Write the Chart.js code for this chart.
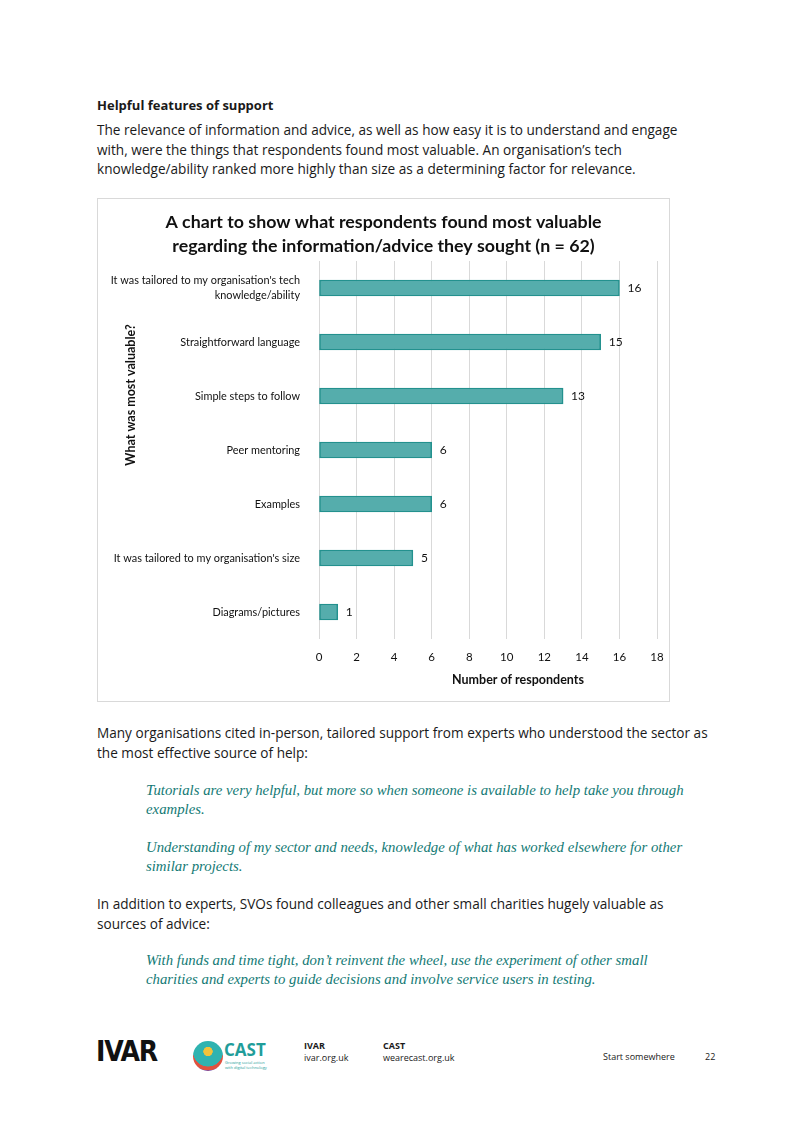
<!DOCTYPE html>
<html>
<head>
<meta charset="utf-8">
<script src="https://cdn.jsdelivr.net/npm/chart.js@4"></script>
<style>
  body { margin: 0; background: #fff; }
  .page { position: relative; width: 800px; height: 1132px; font-family: "Open Sans", sans-serif; color: #1a1a1a; }
  .t { position: absolute; left: 97px; white-space: nowrap; font-size: 13.6px; line-height: 19.5px; }
  .h { font-weight: bold; font-size: 13px; line-height: 20px; }
  .q { position: absolute; left: 146px; white-space: nowrap; font-family: "Liberation Serif", serif; font-style: italic; font-size: 14.8px; line-height: 19px; color: #137a75; }
  .box { position: absolute; left: 97px; top: 198px; width: 571px; height: 502px; border: 1px solid #d9d9d9; }
  .f { position: absolute; font-size: 9px; line-height: 12px; white-space: nowrap; }
</style>
</head>
<body>
<div class="page">
  <div class="t h" style="top:95px">Helpful features of support</div>
  <div class="t" style="top:120px">The relevance of information and advice, as well as how easy it is to understand and engage<br>with, were the things that respondents found most valuable. An organisation’s tech<br>knowledge/ability ranked more highly than size as a determining factor for relevance.</div>

  <div class="box"><canvas id="myChart" width="571" height="502"></canvas></div>

  <div class="t" style="top:723px">Many organisations cited in-person, tailored support from experts who understood the sector as<br>the most effective source of help:</div>
  <div class="q" style="top:781px">Tutorials are very helpful, but more so when someone is available to help take you through<br>examples.</div>
  <div class="q" style="top:838px">Understanding of my sector and needs, knowledge of what has worked elsewhere for other<br>similar projects.</div>
  <div class="t" style="top:894px">In addition to experts, SVOs found colleagues and other small charities hugely valuable as<br>sources of advice:</div>
  <div class="q" style="top:951px">With funds and time tight, don’t reinvent the wheel, use the experiment of other small<br>charities and experts to guide decisions and involve service users in testing.</div>

  <div class="f" style="left:96px;top:1035px;font-family:'DejaVu Sans Condensed','DejaVu Sans';font-weight:bold;font-size:28px;line-height:34px;letter-spacing:-1.2px;color:#111">IVAR</div>
  <div style="position:absolute;left:193px;top:1041px;width:30px;height:30px;border-radius:50%;background:radial-gradient(circle at 50% 35%, #f2c23a 0 18%, #2fb3b0 20% 60%, #e0523f 62% 75%, #6a3fa0 78%);"></div>
  <div class="f" style="left:224px;top:1040px;font-weight:bold;font-size:17px;line-height:20px;color:#1f9d9a">CAST</div>
  <div class="f" style="left:225px;top:1060px;font-size:4px;line-height:5px;color:#1f9d9a">Growing social action<br>with digital technology</div>
  <div class="f" style="left:304px;top:1040px;font-weight:bold">IVAR</div>
  <div class="f" style="left:304px;top:1052px">ivar.org.uk</div>
  <div class="f" style="left:383px;top:1040px;font-weight:bold">CAST</div>
  <div class="f" style="left:383px;top:1052px">wearecast.org.uk</div>
  <div class="f" style="left:603px;top:1051px">Start somewhere</div>
  <div class="f" style="left:705px;top:1051px">22</div>
</div>

<script>
const categories = [
  ["It was tailored to my organisation's tech", "knowledge/ability"],
  "Straightforward language",
  "Simple steps to follow",
  "Peer mentoring",
  "Examples",
  "It was tailored to my organisation's size",
  "Diagrams/pictures"
];
const respondents = [16, 15, 13, 6, 6, 5, 1];
const xTicks = [0, 2, 4, 6, 8, 10, 12, 14, 16, 18];

const chartFont = "Lato, 'Open Sans', sans-serif";

// value labels at the end of each bar
const valueLabels = {
  id: 'valueLabels',
  afterDatasetsDraw(chart) {
    const ctx = chart.ctx;
    ctx.save();
    ctx.font = '12px ' + chartFont;
    ctx.fillStyle = '#111';
    ctx.textAlign = 'left';
    ctx.textBaseline = 'middle';
    chart.getDatasetMeta(0).data.forEach((bar, i) => {
      ctx.fillText(respondents[i], bar.x + 8, bar.y);
    });
    ctx.restore();
  }
};

// axis titles placed like the excel original
const axisTitles = {
  id: 'axisTitles',
  afterDraw(chart) {
    const ctx = chart.ctx, a = chart.chartArea;
    ctx.save();
    ctx.font = 'bold 12.5px ' + chartFont;
    ctx.fillStyle = '#111';
    ctx.textAlign = 'center';
    ctx.textBaseline = 'middle';
    ctx.fillText('Number of respondents', 420, a.bottom + 41);
    ctx.translate(33, a.top + 134);
    ctx.rotate(-Math.PI / 2);
    ctx.fillText('What was most valuable?', 0, 0);
    ctx.restore();
  }
};

const config = {
  type: 'bar',
  data: {
    labels: categories,
    datasets: [{
      label: 'Number of respondents',
      data: respondents,
      backgroundColor: '#55adac',
      borderColor: '#23918e',
      borderWidth: 1.5,
      borderSkipped: false,
      barThickness: 16
    }]
  },
  options: {
    indexAxis: 'y',
    responsive: false,
    animation: false,
    layout: { padding: { left: 0, right: 0, top: 0, bottom: 0 } },
    plugins: {
      legend: { display: false },
      tooltip: { enabled: false },
      title: {
        display: true,
        text: ['A chart to show what respondents found most valuable', 'regarding the information/advice they sought (n = 62)'],
        color: '#111',
        font: { family: chartFont, size: 17.8, weight: 'bold', lineHeight: '24px' },
        padding: { top: 11, bottom: 3 }
      }
    },
    scales: {
      x: {
        min: 0,
        max: 18,
        afterBuildTicks: s => { s.ticks = xTicks.map(v => ({ value: v })); },
        afterFit: s => { s.height = 62; s.paddingRight = 12; },
        grid: { color: '#d9d9d9', drawTicks: false },
        border: { display: false },
        ticks: { color: '#111', padding: 11, font: { family: chartFont, size: 11.5 } }
      },
      y: {
        afterFit: s => { s.width = 221; },
        grid: { display: false },
        border: { display: false },
        ticks: { color: '#111', padding: 11, font: { family: chartFont, size: 10.9, lineHeight: 1.35 } }
      }
    }
  },
  plugins: [valueLabels, axisTitles]
};

const myChart = new Chart(document.getElementById('myChart'), config);
</script>
</body>
</html>
